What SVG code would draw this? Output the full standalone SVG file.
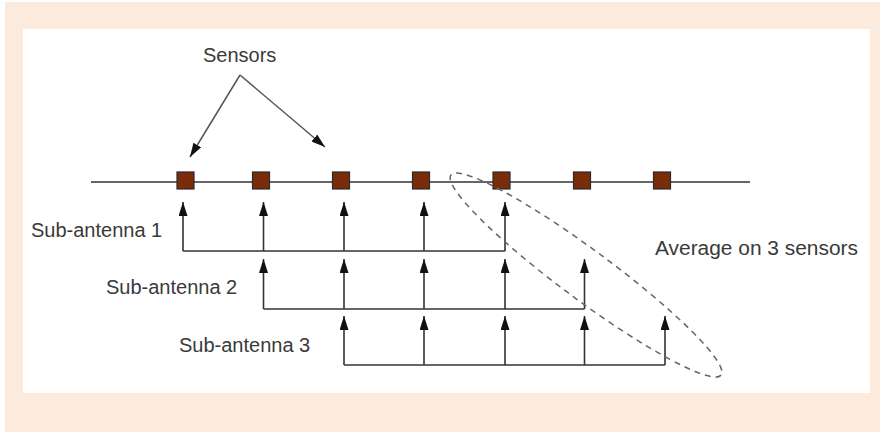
<svg xmlns="http://www.w3.org/2000/svg" width="883" height="432" viewBox="0 0 883 432">
<defs>
<marker id="ah" markerWidth="15" markerHeight="9" refX="14" refY="4.5" orient="auto" markerUnits="userSpaceOnUse" viewBox="0 0 15 9">
<path d="M0,0 L14,4.5 L0,9 Z" fill="#111"/>
</marker>
</defs>
<style>
.t{font-family:"Liberation Sans",Arial,sans-serif;font-size:20px;fill:#3a3a3a}
.ln{stroke:#333;stroke-width:1.6;fill:none}
.up{stroke:#333;stroke-width:1.6;fill:none;marker-end:url(#ah)}
.sq{fill:#7a2c08;stroke:#2a2a2a;stroke-width:1.2}
.pt{stroke:#555;stroke-width:1.5;fill:none;marker-end:url(#ah)}
</style>
<rect x="0" y="0" width="883" height="432" fill="#fff"/>
<rect x="5" y="2" width="875" height="430" fill="#fceadc"/>
<rect x="23" y="29" width="847" height="364" fill="#fff"/>

<g id="connectors">
<line class="ln" x1="91" y1="182" x2="750" y2="182"/>
<path class="pt" d="M240,75 L190,157"/>
<path class="pt" d="M240,75 L325,147"/>
<!-- sub-antenna 1 -->
<path class="ln" d="M183,251 H505"/>
<line class="up" x1="183" y1="251" x2="183" y2="202"/>
<line class="up" x1="263.5" y1="251" x2="263.5" y2="202"/>
<line class="up" x1="344" y1="251" x2="344" y2="202"/>
<line class="up" x1="424" y1="251" x2="424" y2="202"/>
<line class="up" x1="505" y1="251" x2="505" y2="202"/>
<!-- sub-antenna 2 -->
<path class="ln" d="M263.5,309 H584.5"/>
<line class="up" x1="263.5" y1="309" x2="263.5" y2="259"/>
<line class="up" x1="344" y1="309" x2="344" y2="259"/>
<line class="up" x1="424" y1="309" x2="424" y2="259"/>
<line class="up" x1="505" y1="309" x2="505" y2="259"/>
<line class="up" x1="584.5" y1="309" x2="584.5" y2="259"/>
<!-- sub-antenna 3 -->
<path class="ln" d="M344,365 H665"/>
<line class="up" x1="344" y1="365" x2="344" y2="316"/>
<line class="up" x1="424" y1="365" x2="424" y2="316"/>
<line class="up" x1="505" y1="365" x2="505" y2="316"/>
<line class="up" x1="584.5" y1="365" x2="584.5" y2="316"/>
<line class="up" x1="665" y1="365" x2="665" y2="316"/>
</g>

<g id="sensors">
<rect class="sq" x="177" y="172" width="17" height="17"/>
<rect class="sq" x="252.5" y="172" width="17" height="17"/>
<rect class="sq" x="332.5" y="172" width="17" height="17"/>
<rect class="sq" x="412.5" y="172" width="17" height="17"/>
<rect class="sq" x="493" y="172" width="17" height="17"/>
<rect class="sq" x="573.5" y="172" width="17" height="17"/>
<rect class="sq" x="653.5" y="172" width="17" height="17"/>
</g>

<g id="average-ellipse">
<ellipse cx="586" cy="275" rx="168" ry="25" transform="rotate(36.5 586 275)" fill="none" stroke="#666" stroke-width="1.5" stroke-dasharray="6 5"/>
</g>

<g id="labels">
<text class="t" x="203" y="62">Sensors</text>
<text class="t" x="31" y="237">Sub-antenna 1</text>
<text class="t" x="106" y="294">Sub-antenna 2</text>
<text class="t" x="179" y="352">Sub-antenna 3</text>
<text class="t" x="655" y="255" textLength="203" lengthAdjust="spacingAndGlyphs">Average on 3 sensors</text>
</g>
</svg>
